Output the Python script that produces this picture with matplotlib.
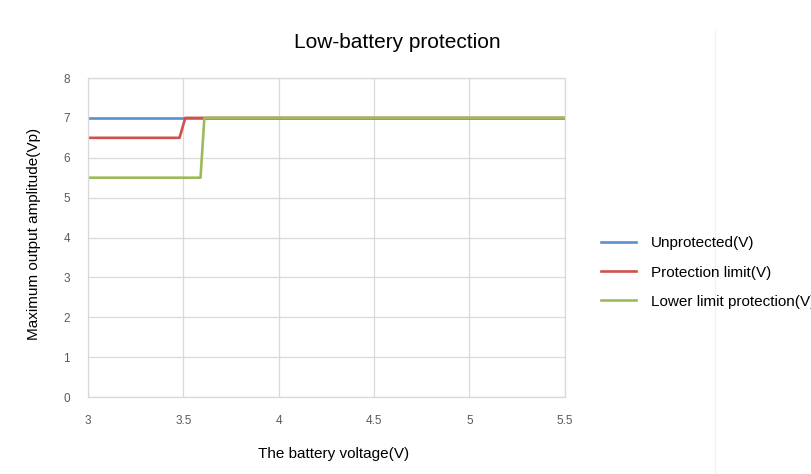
import matplotlib.pyplot as plt
import matplotlib.lines as mlines

plt.rcParams['font.family'] = ['Liberation Sans', 'DejaVu Sans']

# data
x_unprot = [3.0, 5.5]
y_unprot = [7.0, 7.0]

x_limit = [3.0, 3.48, 3.51, 5.5]
y_limit = [6.5, 6.5, 7.0, 7.0]

x_lower = [3.0, 3.59, 3.61, 5.5]
y_lower = [5.5, 5.5, 7.0, 7.0]

labels = ['Unprotected(V)', 'Protection limit(V)', 'Lower limit protection(V)']
xticks = [3, 3.5, 4, 4.5, 5, 5.5]
yticks = [0, 1, 2, 3, 4, 5, 6, 7, 8]

fig = plt.figure(figsize=(8.11, 4.74), dpi=100)
ax = fig.add_axes([0.1085, 0.1624, 0.588, 0.673])

ax.plot(x_unprot, y_unprot, color='#5b8fd0', lw=1.9, label=labels[0])
ax.plot(x_limit, y_limit, color='#d0504c', lw=1.9, label=labels[1])
ax.plot(x_lower, y_lower, color='#9bbb59', lw=1.9, label=labels[2])

ax.set_xlim(3, 5.5)
ax.set_ylim(0, 8)
ax.set_xticks(xticks)
ax.set_xticklabels(['3', '3.5', '4', '4.5', '5', '5.5'])
ax.set_yticks(yticks)
ax.grid(True, color='#d9d9d9', lw=0.9)
ax.set_axisbelow(True)
for s in ax.spines.values():
    s.set_color('#d9d9d9')
    s.set_linewidth(0.9)
ax.tick_params(length=0, labelsize=8.5, labelcolor='#595959')
ax.tick_params(axis='x', pad=13)
ax.tick_params(axis='y', pad=13)

fig.text(397 / 811, 1 - 43 / 474, 'Low-battery protection', fontsize=15,
         ha='center', va='center')
ax.set_xlabel('The battery voltage(V)', fontsize=11, labelpad=14, x=0.514)
ax.set_ylabel('Maximum output amplitude(Vp)', fontsize=11, labelpad=16, y=0.51)

ax.legend(loc='center left', bbox_to_anchor=(0.724, 0.425), bbox_transform=fig.transFigure,
          frameon=False, fontsize=11, handlelength=2.3, handletextpad=1.0,
          labelspacing=1.0)

# faint border of the chart area on the right
fig.add_artist(mlines.Line2D([715 / 811, 715 / 811], [0, 1 - 30 / 474], color='#f0f0f0',
                             lw=0.8, zorder=-1))

fig.savefig('out.png', dpi=100)
